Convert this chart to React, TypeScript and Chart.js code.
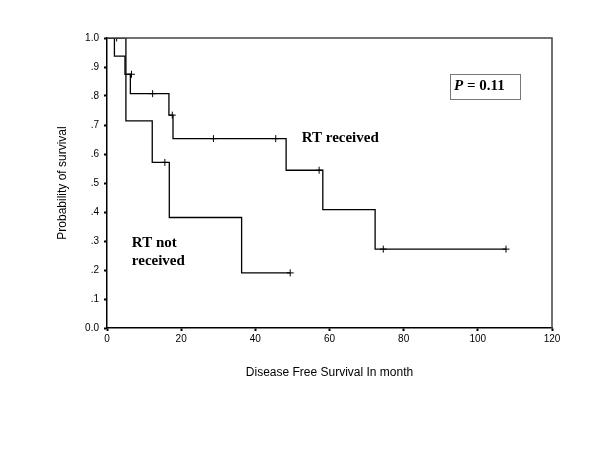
import React, { useEffect, useRef } from "react";
import { Chart, registerables } from "chart.js";

Chart.register(...registerables);

// RT received: Kaplan-Meier step points (time in months, survival probability)
const receivedTimes = [0, 2.0, 4.85, 6.3, 16.7, 17.8, 48.3, 58.2, 72.3, 107.6];
const receivedSurv = [1.0, 0.9375, 0.875, 0.808, 0.734, 0.653, 0.544, 0.408, 0.272, 0.272];
const receivedCensorTimes = [6.6, 12.3, 17.6, 28.7, 45.5, 57.2, 74.5, 107.6];
const receivedCensorSurv = [0.875, 0.808, 0.734, 0.653, 0.653, 0.544, 0.272, 0.272];

// RT not received
const notReceivedTimes = [0, 5.1, 12.2, 16.8, 36.3, 49.4];
const notReceivedSurv = [1.0, 0.714, 0.571, 0.381, 0.19, 0.19];
const notReceivedCensorTimes = [2.6, 15.6, 49.4];
const notReceivedCensorSurv = [1.0, 0.571, 0.19];

const yTickLabels = ["0.0", ".1", ".2", ".3", ".4", ".5", ".6", ".7", ".8", ".9", "1.0"];
const xTickValues = [0, 20, 40, 60, 80, 100, 120];

const xTitle = "Disease Free Survival In month";
const yTitle = "Probability of survival";
const labelReceived = "RT received";
const labelNotReceived = ["RT not", "received"];
const pValueText = "0.11";

const toPoints = (xs: number[], ys: number[]) => xs.map((x, i) => ({ x, y: ys[i] }));

const annotationPlugin = {
  id: "kmAnnotations",
  afterDraw(chart: any) {
    const { ctx, chartArea, scales } = chart;
    const xs = scales.x;
    const ys = scales.y;
    ctx.save();
    // frame top and right
    ctx.strokeStyle = "#444";
    ctx.lineWidth = 1.5;
    ctx.beginPath();
    ctx.moveTo(chartArea.left, chartArea.top);
    ctx.lineTo(chartArea.right, chartArea.top);
    ctx.lineTo(chartArea.right, chartArea.bottom);
    ctx.stroke();

    ctx.fillStyle = "#000";
    ctx.font = "bold 15px 'Liberation Serif', 'Times New Roman', serif";
    ctx.textBaseline = "middle";
    ctx.textAlign = "left";
    ctx.fillText(labelReceived, xs.getPixelForValue(52.5), ys.getPixelForValue(0.655));
    ctx.fillText(labelNotReceived[0], xs.getPixelForValue(6.7), ys.getPixelForValue(0.293));
    ctx.fillText(labelNotReceived[1], xs.getPixelForValue(6.7), ys.getPixelForValue(0.232));

    // P value box
    const bx0 = xs.getPixelForValue(92.5);
    const bx1 = xs.getPixelForValue(111.4);
    const by0 = ys.getPixelForValue(0.876);
    const by1 = ys.getPixelForValue(0.79);
    ctx.strokeStyle = "#777";
    ctx.lineWidth = 1;
    ctx.strokeRect(Math.round(bx0) + 0.5, Math.round(by0) + 0.5, Math.round(bx1 - bx0), Math.round(by1 - by0));
    const ty = (by0 + by1) / 2;
    let tx = bx0 + 4;
    ctx.font = "italic bold 15px 'Liberation Serif', 'Times New Roman', serif";
    ctx.fillText("P", tx, ty);
    tx += ctx.measureText("P").width;
    ctx.font = "bold 15px 'Liberation Serif', 'Times New Roman', serif";
    ctx.fillText(" = " + pValueText, tx, ty);
    ctx.restore();
  },
};

export default function App() {
  const canvasRef = useRef<HTMLCanvasElement | null>(null);

  useEffect(() => {
    if (!canvasRef.current) return;
    const lineCommon = {
      showLine: true,
      stepped: true,
      borderColor: "#000",
      borderWidth: 1.3,
      pointRadius: 0,
      fill: false,
    };
    const censorCommon = {
      showLine: false,
      pointStyle: "cross",
      pointRadius: 3.5,
      borderColor: "#000",
      borderWidth: 1,
      backgroundColor: "#000",
    };
    const chart = new Chart(canvasRef.current, {
      type: "scatter",
      data: {
        datasets: [
          { ...lineCommon, label: "RT received", data: toPoints(receivedTimes, receivedSurv) } as any,
          { ...lineCommon, label: "RT not received", data: toPoints(notReceivedTimes, notReceivedSurv) } as any,
          { ...censorCommon, label: "censored received", data: toPoints(receivedCensorTimes, receivedCensorSurv) } as any,
          { ...censorCommon, label: "censored not received", data: toPoints(notReceivedCensorTimes, notReceivedCensorSurv) } as any,
        ],
      },
      options: {
        animation: false,
        responsive: false,
        maintainAspectRatio: false,
        layout: { padding: { top: 38, right: 48, left: 0, bottom: 0 } },
        plugins: {
          legend: { display: false },
          tooltip: { enabled: false },
        },
        scales: {
          x: {
            type: "linear",
            min: 0,
            max: 120,
            afterBuildTicks: (scale: any) => {
              scale.ticks = xTickValues.map((v) => ({ value: v }));
            },
            afterFit: (scale: any) => {
              scale.height = 122;
            },
            ticks: {
              color: "#000",
              font: { family: "'Liberation Sans', Arial, sans-serif", size: 10 },
              padding: 2,
              maxRotation: 0,
              autoSkip: false,
            },
            grid: {
              drawOnChartArea: false,
              drawTicks: true,
              tickLength: 3,
              tickWidth: 2,
              tickColor: "#000",
            },
            border: { display: true, color: "#000", width: 1.5 },
            title: {
              display: true,
              text: xTitle,
              color: "#000",
              font: { family: "'Liberation Sans', Arial, sans-serif", size: 12 },
              padding: { top: 0, bottom: 70 },
            },
          },
          y: {
            type: "linear",
            min: 0,
            max: 1,
            afterBuildTicks: (scale: any) => {
              scale.ticks = yTickLabels.map((_, i) => ({ value: i / 10 }));
            },
            afterFit: (scale: any) => {
              scale.width = 107;
            },
            ticks: {
              color: "#000",
              font: { family: "'Liberation Sans', Arial, sans-serif", size: 10 },
              padding: 5,
              autoSkip: false,
              callback: (_v: any, i: number) => yTickLabels[i],
            },
            grid: {
              drawOnChartArea: false,
              drawTicks: true,
              tickLength: 3,
              tickWidth: 2,
              tickColor: "#000",
            },
            border: { display: true, color: "#000", width: 1.5 },
            title: {
              display: true,
              text: yTitle,
              color: "#000",
              font: { family: "'Liberation Sans', Arial, sans-serif", size: 12 },
              padding: { top: 55, bottom: 0 },
            },
          },
        },
      },
      plugins: [annotationPlugin],
    } as any);
    return () => chart.destroy();
  }, []);

  return (
    <div style={{ position: "fixed", left: 0, top: 0, width: 600, height: 450, background: "#fff" }}>
      <canvas ref={canvasRef} width={600} height={450} style={{ display: "block" }} />
    </div>
  );
}
